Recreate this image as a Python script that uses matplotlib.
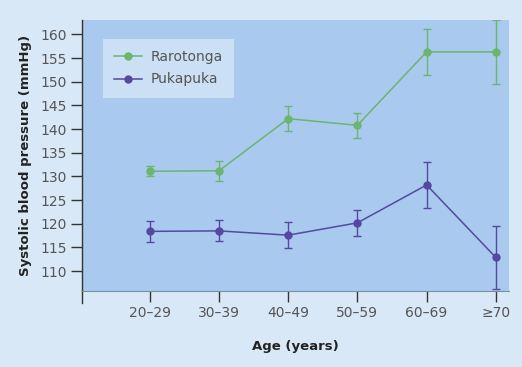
import matplotlib.pyplot as plt
from matplotlib.lines import Line2D

# age groups on the x axis
ages = ['20–29', '30–39', '40–49', '50–59', '60–69', '≥70']

# mean systolic blood pressure and error (mmHg)
raro_mean = [131.1, 131.2, 142.2, 140.8, 156.3, 156.3]
raro_err = [1.0, 2.1, 2.6, 2.6, 4.8, 6.7]
puka_mean = [118.4, 118.5, 117.6, 120.2, 128.2, 112.9]
puka_err = [2.2, 2.2, 2.7, 2.7, 4.8, 6.6]

green = '#6cb56c'
purple = '#5548a0'

fig = plt.figure(figsize=(5.22, 3.67), dpi=100)
fig.patch.set_facecolor('#d9e8f6')
ax = fig.add_axes([0.157, 0.207, 0.818, 0.738])
ax.set_facecolor('#a9c9ef')

x = list(range(len(ages)))
ax.errorbar(x, raro_mean, yerr=raro_err, color=green, marker='o', markersize=5,
            linewidth=1.1, elinewidth=1.0, capsize=3, ecolor=green)
ax.errorbar(x, puka_mean, yerr=puka_err, color=purple, marker='o', markersize=5,
            linewidth=1.1, elinewidth=1.0, capsize=3, ecolor=purple)

ax.set_xlim(-0.98, 5.19)
ax.set_ylim(105.8, 163)
ax.set_xticks(x)
ax.set_xticklabels(ages)
ax.set_yticks(range(110, 161, 5))

for s in ['top', 'right']:
    ax.spines[s].set_visible(False)
ax.spines['bottom'].set_color('#7a8ea8')
ax.spines['bottom'].set_linewidth(0.8)
ax.spines['left'].set_color('#333333')
ax.spines['left'].set_linewidth(1.0)
# left axis line continues below the plot area
ax.add_line(Line2D([0, 0], [0, -0.045], transform=ax.transAxes, color='#333333',
                   linewidth=1.0, clip_on=False))

ax.tick_params(axis='both', direction='out', length=8, width=1.0, color='#333333',
               labelsize=10, labelcolor='#555555', pad=3)

ax.set_ylabel('Systolic blood pressure (mmHg)', fontsize=9.5, fontweight='bold',
              color='#222222', labelpad=6)
ax.set_xlabel('Age (years)', fontsize=9.5, fontweight='bold', color='#222222', labelpad=14)

handles = [Line2D([], [], color=green, marker='o', markersize=5, linewidth=1.1),
           Line2D([], [], color=purple, marker='o', markersize=5, linewidth=1.1)]
leg = ax.legend(handles, ['Rarotonga', 'Pukapuka'], loc='upper left',
                bbox_to_anchor=(0.033, 0.956), fontsize=10, frameon=True,
                fancybox=False, handlelength=2.0, borderpad=0.8, labelspacing=0.6,
                handletextpad=0.6)
leg.get_frame().set_facecolor('#cce0f5')
leg.get_frame().set_edgecolor('none')
leg.get_frame().set_alpha(1)
for t in leg.get_texts():
    t.set_color('#555555')

fig.savefig('out.png', dpi=100, facecolor=fig.get_facecolor())
